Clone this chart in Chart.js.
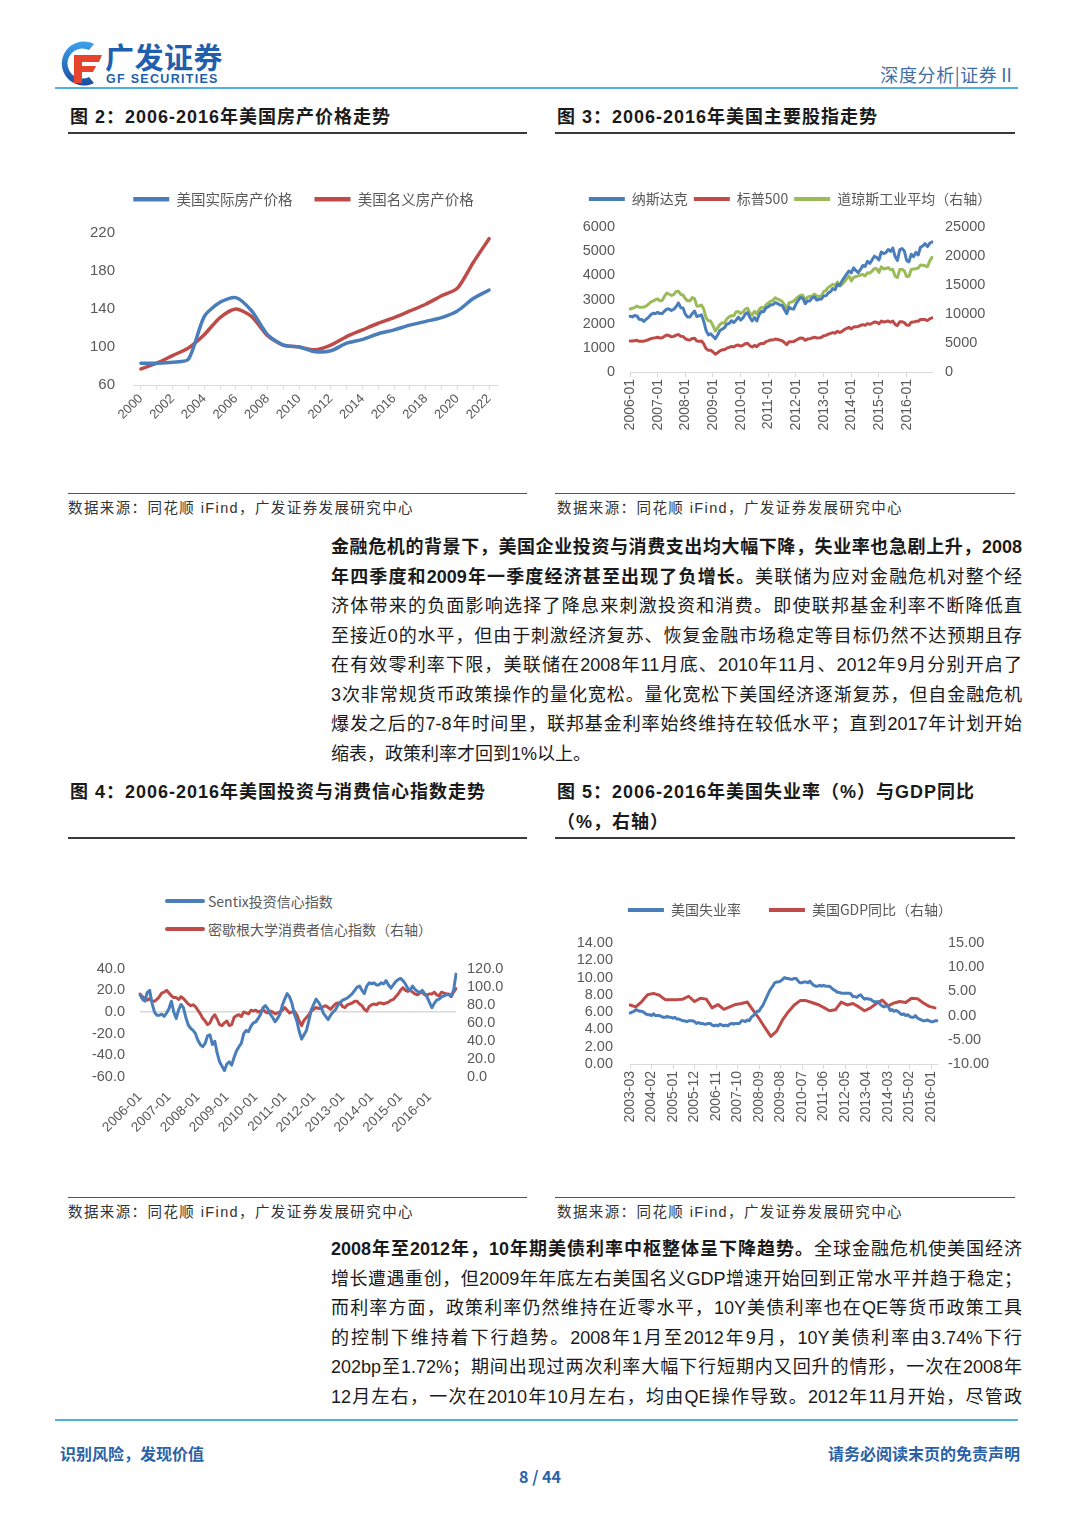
<!DOCTYPE html>
<html lang="zh-CN">
<head>
<meta charset="utf-8">
<title>深度分析 | 证券Ⅱ</title>
<script src="https://cdn.jsdelivr.net/npm/chart.js@4.4.1/dist/chart.umd.min.js"></script>
<style>
  html, body { margin: 0; padding: 0; background: #fff; }
  body { width: 1080px; height: 1527px; position: relative; overflow: hidden;
    font-family: "Liberation Sans", "Noto Sans CJK SC", sans-serif; color: #1a1a1a; }
  .rule-blue { position: absolute; left: 55px; width: 963px; height: 2px; background: #4fb1de; }
  .brand { position: absolute; left: 105px; top: 41px; font: 700 29px "Noto Sans CJK SC", sans-serif; line-height: 30px; color: #1f5fae; letter-spacing: 0.5px; }
  .brand-en { position: absolute; left: 106px; top: 73px; font: 700 12.5px "Liberation Sans", sans-serif; line-height: 12px; color: #1f5fae; letter-spacing: 1.3px; }
  .doc-type { position: absolute; right: 64px; top: 61px; font: 18px "Noto Sans CJK SC", sans-serif; color: #3f6ea6; letter-spacing: 0.6px; }
  .fig-title { position: absolute; font: 700 18px "Liberation Sans", "Noto Sans CJK SC", sans-serif; line-height: 30px; color: #1a1a1a; white-space: nowrap; letter-spacing: 1px; }
  .rule-dark { position: absolute; height: 2px; background: #3a3a3a; }
  .rule-src { position: absolute; height: 1px; background: #555; }
  .src { position: absolute; font: 14.5px "Liberation Sans", "Noto Sans CJK SC", sans-serif; line-height: 20px; color: #333; white-space: nowrap; letter-spacing: 1.4px; }
  .chart { position: absolute; }
  .para { position: absolute; left: 331px; width: 691px; font-size: 18px; color: #1a1a1a;
    font-family: "Liberation Sans Narrow", "Liberation Sans", "Noto Sans CJK SC", sans-serif; }
  .para div { line-height: 29.5px; height: 29.5px; text-align: justify; text-align-last: justify; }
  .para div.last { text-align-last: left; }
  .para b { font-weight: 700; }
  .lg4 { position: absolute; font: 14px "Noto Sans CJK SC", sans-serif; color: #595959; }
  .lg4 .row { height: 28px; display: flex; align-items: center; }
  .lg4 .sw { width: 40px; height: 4px; border-radius: 2px; margin-right: 3px; }
  .foot { position: absolute; font: 700 16px "Noto Sans CJK SC", sans-serif; color: #2a62a8; line-height: 22px; }
</style>
</head>
<body>

<!-- header -->
<svg style="position:absolute;left:54px;top:39px" width="50" height="48" viewBox="0 0 50 48">
  <defs>
    <linearGradient id="gb" x1="0" y1="0" x2="0" y2="1">
      <stop offset="0" stop-color="#3ba3ea"/><stop offset="1" stop-color="#1c4c9e"/>
    </linearGradient>
  </defs>
  <path d="M40 5 A22 22 0 1 0 40 44 L35 38 A15 15 0 1 1 35 11 Z" fill="url(#gb)"/>
  <path d="M20 16 H48 L45 23 H28 V27 H42 L39 33 H28 V44 H20 Z" fill="#e8432d"/>
</svg>
<div class="brand">广发证券</div>
<div class="brand-en">GF SECURITIES</div>
<div class="doc-type">深度分析|证券Ⅱ</div>
<div class="rule-blue" style="top:87px"></div>

<!-- figure 2 / 3 -->
<div class="fig-title" style="left:70px;top:102px">图 2：2006-2016年美国房产价格走势</div>
<div class="fig-title" style="left:557px;top:102px">图 3：2006-2016年美国主要股指走势</div>
<div class="rule-dark" style="left:68px;width:459px;top:132px"></div>
<div class="rule-dark" style="left:555px;width:460px;top:132px"></div>

<div class="chart" style="left:68px;top:170px;width:445px;height:257px"><canvas id="c2"></canvas></div>
<div class="chart" style="left:560px;top:186px;width:460px;height:252px"><canvas id="c3"></canvas></div>

<div class="rule-src" style="left:68px;width:459px;top:493px"></div>
<div class="rule-src" style="left:555px;width:460px;top:493px"></div>
<div class="src" style="left:68px;top:498px">数据来源：同花顺 iFind，广发证券发展研究中心</div>
<div class="src" style="left:557px;top:498px">数据来源：同花顺 iFind，广发证券发展研究中心</div>

<div class="para" style="top:533px">
  <div><b>金融危机的背景下，美国企业投资与消费支出均大幅下降，失业率也急剧上升，2008</b></div>
  <div><b>年四季度和2009年一季度经济甚至出现了负增长。</b>美联储为应对金融危机对整个经</div>
  <div>济体带来的负面影响选择了降息来刺激投资和消费。即使联邦基金利率不断降低直</div>
  <div>至接近0的水平，但由于刺激经济复苏、恢复金融市场稳定等目标仍然不达预期且存</div>
  <div>在有效零利率下限，美联储在2008年11月底、2010年11月、2012年9月分别开启了</div>
  <div>3次非常规货币政策操作的量化宽松。量化宽松下美国经济逐渐复苏，但自金融危机</div>
  <div>爆发之后的7-8年时间里，联邦基金利率始终维持在较低水平；直到2017年计划开始</div>
  <div class="last">缩表，政策利率才回到1%以上。</div>
</div>

<!-- figure 4 / 5 -->
<div class="fig-title" style="left:70px;top:777px">图 4：2006-2016年美国投资与消费信心指数走势</div>
<div class="fig-title" style="left:557px;top:777px">图 5：2006-2016年美国失业率（%）与GDP同比<br>（%，右轴）</div>
<div class="rule-dark" style="left:68px;width:459px;top:837px"></div>
<div class="rule-dark" style="left:555px;width:460px;top:837px"></div>

<div class="lg4" id="lg4" style="left:165px;top:887px"></div>
<div class="chart" style="left:70px;top:945px;width:455px;height:187px"><canvas id="c4"></canvas></div>
<div class="chart" style="left:560px;top:875px;width:460px;height:255px"><canvas id="c5"></canvas></div>

<div class="rule-src" style="left:68px;width:459px;top:1197px"></div>
<div class="rule-src" style="left:555px;width:460px;top:1197px"></div>
<div class="src" style="left:68px;top:1202px">数据来源：同花顺 iFind，广发证券发展研究中心</div>
<div class="src" style="left:557px;top:1202px">数据来源：同花顺 iFind，广发证券发展研究中心</div>

<div class="para" style="top:1235px">
  <div><b>2008年至2012年，10年期美债利率中枢整体呈下降趋势。</b>全球金融危机使美国经济</div>
  <div>增长遭遇重创，但2009年年底左右美国名义GDP增速开始回到正常水平并趋于稳定；</div>
  <div>而利率方面，政策利率仍然维持在近零水平，10Y美债利率也在QE等货币政策工具</div>
  <div>的控制下维持着下行趋势。2008年1月至2012年9月，10Y美债利率由3.74%下行</div>
  <div>202bp至1.72%；期间出现过两次利率大幅下行短期内又回升的情形，一次在2008年</div>
  <div>12月左右，一次在2010年10月左右，均由QE操作导致。2012年11月开始，尽管政</div>
</div>

<!-- footer -->
<div class="rule-blue" style="top:1419px"></div>
<div class="foot" style="left:60px;top:1442px">识别风险，发现价值</div>
<div class="foot" style="right:60px;top:1442px">请务必阅读末页的免责声明</div>
<div class="foot" style="left:0;width:1080px;text-align:center;top:1465px">8 / 44</div>

<script>
// ---- 图2 房产价格 ----
const houseYears = ['2000', '2001', '2002', '2003', '2004', '2005', '2006', '2007', '2008', '2009', '2010', '2011',
  '2012', '2013', '2014', '2015', '2016', '2017', '2018', '2019', '2020', '2021', '2022'];
const realHouse = [83, 83, 84, 87, 132, 147, 152, 138, 113, 102, 100, 95, 96, 104, 108, 114, 118, 123, 127, 131, 138, 151, 160];
const nominalHouse = [77, 83, 91, 99, 113, 131, 140, 132, 112, 102, 100, 97, 102, 111, 118, 125, 131, 138, 145, 154, 162, 189, 214];

// ---- 图3 股指 (月度 2006-01 ~ 2016-12) ----
const nasdaq = [
  2306, 2281, 2340, 2323, 2179, 2172, 2091, 2184, 2258, 2367, 2432, 2415,
  2464, 2416, 2422, 2525, 2605, 2603, 2546, 2596, 2702, 2859, 2661, 2652,
  2390, 2271, 2279, 2413, 2523, 2293, 2326, 2368, 2092, 1721, 1536, 1577,
  1476, 1378, 1529, 1717, 1774, 1835, 1979, 2009, 2122, 2045, 2145, 2269,
  2147, 2238, 2398, 2461, 2257, 2109, 2255, 2114, 2369, 2507, 2498, 2653,
  2700, 2782, 2781, 2874, 2835, 2774, 2756, 2579, 2415, 2684, 2620, 2605,
  2814, 2967, 3092, 3046, 2827, 2935, 2940, 3067, 3116, 2977, 3010, 3020,
  3142, 3160, 3268, 3329, 3456, 3403, 3626, 3590, 3771, 3920, 4060, 4177,
  4104, 4308, 4199, 4115, 4243, 4408, 4370, 4580, 4493, 4631, 4792, 4736,
  4635, 4964, 4901, 4941, 5070, 4987, 5128, 4777, 4620, 5054, 5109, 5007,
  4614, 4558, 4870, 4775, 4948, 4843, 5162, 5213, 5312, 5189, 5324, 5383];
const sp500 = [
  1280, 1281, 1295, 1311, 1270, 1270, 1277, 1304, 1336, 1378, 1401, 1418,
  1438, 1407, 1421, 1482, 1531, 1503, 1455, 1474, 1527, 1549, 1481, 1468,
  1379, 1331, 1323, 1386, 1400, 1280, 1267, 1283, 1166, 969, 896, 903,
  826, 735, 798, 873, 919, 919, 987, 1021, 1057, 1036, 1096, 1115,
  1074, 1104, 1169, 1187, 1089, 1031, 1102, 1049, 1141, 1183, 1181, 1258,
  1286, 1327, 1326, 1364, 1345, 1321, 1292, 1219, 1131, 1253, 1247, 1258,
  1312, 1366, 1408, 1398, 1310, 1362, 1379, 1407, 1441, 1412, 1416, 1426,
  1498, 1515, 1569, 1598, 1631, 1606, 1686, 1633, 1682, 1757, 1806, 1848,
  1783, 1859, 1872, 1884, 1924, 1960, 1931, 2003, 1972, 2018, 2068, 2059,
  1995, 2105, 2068, 2086, 2107, 2063, 2104, 1972, 1920, 2079, 2080, 2044,
  1940, 1932, 2060, 2065, 2097, 2099, 2174, 2171, 2168, 2126, 2199, 2239];
const dow = [
  10865, 10993, 11109, 11367, 11168, 11150, 11186, 11381, 11679, 12081, 12222, 12463,
  12622, 12269, 12354, 13063, 13628, 13409, 13212, 13358, 13896, 13930, 13372, 13265,
  12650, 12266, 12263, 12820, 12638, 11350, 11378, 11544, 10851, 9325, 8829, 8776,
  8001, 7063, 7609, 8168, 8500, 8447, 9172, 9496, 9712, 9713, 10345, 10428,
  10067, 10325, 10857, 11009, 10137, 9774, 10466, 10015, 10788, 11118, 11006, 11578,
  11892, 12226, 12320, 12811, 12570, 12414, 12143, 11614, 10913, 11955, 12046, 12218,
  12633, 12952, 13212, 13214, 12393, 12880, 13009, 13091, 13437, 13096, 13026, 13104,
  13861, 14054, 14579, 14840, 15116, 14910, 15500, 14810, 15130, 15546, 16086, 16577,
  15699, 16322, 16458, 16581, 16717, 16827, 16563, 17098, 17043, 17391, 17828, 17823,
  17165, 18133, 17776, 17841, 18011, 17620, 17690, 16528, 16285, 17664, 17720, 17425,
  16466, 16517, 17685, 17774, 17787, 17930, 18432, 18401, 18308, 18142, 19124, 19763];

// ---- 图4 信心指数 (月度 2006-01 ~ 2016-12) ----
const sentix = [
  16, 12, 10, 18, 20, 8, 0, -3, -3, -2, -4, -1,
  3, 10, 0, -6, 2, 7, 4, -5, -12, -15, -17, -20,
  -26, -30, -32, -29, -22, -21, -30, -27, -38, -46, -50, -54,
  -48, -46, -49, -42, -36, -32, -29, -20, -17, -18, -13, -10,
  -9, -6, -2, 4, 6, 3, -2, -5, -9, -6, -2, 6,
  12, 17, 14, 8, -2, -8, -18, -25, -21, -17, -8, 2,
  7, 12, 9, 5, -1, -4, -7, -3, 0, 2, 6, 9,
  11, 12, 13, 15, 17, 20, 23, 24, 20, 17, 24, 27,
  26, 27, 25, 25, 27, 26, 29, 25, 22, 25, 28, 30,
  31, 29, 26, 22, 20, 24, 21, 19, 18, 20, 17, 14,
  9, 4, 8, 11, 12, 14, 15, 16, 16, 15, 20, 35];
const michigan = [
  92, 89, 87, 85, 87, 84, 84, 86, 89, 93, 94, 96,
  93, 90, 88, 88, 86, 89, 87, 84, 81, 79, 80, 78,
  74, 70, 65, 62, 58, 60, 66, 69, 64, 58, 57, 60,
  62, 57, 58, 66, 68, 69, 67, 72, 71, 70, 74, 73,
  74, 72, 73, 75, 72, 71, 73, 72, 70, 71, 72, 74,
  77, 74, 71, 72, 73, 69, 62, 57, 63, 66, 69, 73,
  75, 77, 76, 76, 78, 79, 77, 75, 78, 81, 82, 82,
  78, 77, 80, 81, 82, 84, 84, 81, 79, 75, 73, 78,
  80, 81, 80, 82, 82, 81, 82, 83, 85, 86, 89, 92,
  96, 99, 96, 95, 96, 94, 92, 91, 93, 94, 91, 91,
  92, 92, 94, 91, 90, 94, 93, 92, 92, 89, 94, 98];

// ---- 图5 失业率 (月度 2003-03 ~ 2016-04) 与 GDP 同比 (季度) ----
const unemployment = [
  5.9, 6.0, 6.1, 6.3, 6.2, 6.1, 6.1, 6.0, 5.8, 5.7,
  5.7, 5.6, 5.8, 5.6, 5.6, 5.6, 5.5, 5.4, 5.4, 5.5, 5.4, 5.4,
  5.3, 5.4, 5.2, 5.2, 5.1, 5.0, 5.0, 4.9, 5.0, 5.0, 5.0, 4.9,
  4.7, 4.8, 4.7, 4.7, 4.6, 4.6, 4.7, 4.7, 4.5, 4.4, 4.5, 4.4,
  4.6, 4.5, 4.4, 4.5, 4.4, 4.6, 4.7, 4.6, 4.7, 4.7, 4.7, 5.0,
  5.0, 4.9, 5.1, 5.0, 5.4, 5.6, 5.8, 6.1, 6.1, 6.5, 6.8, 7.3,
  7.8, 8.3, 8.7, 9.0, 9.4, 9.5, 9.5, 9.6, 9.8, 10.0, 9.9, 9.9,
  9.8, 9.8, 9.9, 9.9, 9.6, 9.4, 9.4, 9.5, 9.5, 9.4, 9.6, 9.3,
  9.1, 9.0, 9.0, 9.1, 9.0, 9.1, 9.0, 9.0, 9.0, 8.8, 8.6, 8.5,
  8.3, 8.3, 8.2, 8.2, 8.2, 8.2, 8.2, 8.1, 7.8, 7.8, 7.7, 7.9,
  8.0, 7.7, 7.5, 7.6, 7.5, 7.5, 7.3, 7.2, 7.2, 7.2, 6.9, 6.7,
  6.6, 6.7, 6.7, 6.2, 6.3, 6.1, 6.2, 6.1, 5.9, 5.7, 5.8, 5.6,
  5.7, 5.5, 5.4, 5.4, 5.6, 5.3, 5.2, 5.1, 5.0, 5.0, 5.1, 5.0,
  4.9, 4.9, 5.0, 5.0];
// 季度值，依次为 2003Q1 ... 2016Q1
const gdpYoY = [
  2.2, 1.8, 2.9, 4.3, 4.6, 4.2, 3.3, 3.3, 3.3, 3.4, 4.0, 2.9, 3.6,
  3.4, 1.6, 2.3, 1.3, 1.8, 2.3, 2.5, 2.8, 1.1, -0.6, -2.5, -4.3, -3.2,
  -0.9, 0.8, 2.2, 3.1, 3.1, 2.7, 2.3, 1.7, 1.0, 1.2, 2.8, 2.2, 2.5,
  1.8, 1.0, 1.6, 2.5, 3.2, 2.0, 2.6, 2.9, 2.7, 3.6, 3.5, 2.6, 1.9, 1.6];

function monthLabels(year, month, count) {
  const out = [];
  for (let i = 0; i < count; i++) {
    const m = month - 1 + i;
    out.push((year + Math.floor(m / 12)) + '-' + String(m % 12 + 1).padStart(2, '0'));
  }
  return out;
}
const stockMonths = monthLabels(2006, 1, 132);
const rateMonths = monthLabels(2003, 3, 158);

// ---- 样式 ----
const BLUE = '#4a7ebb', RED = '#be4b48', GREEN = '#9bbb59';
const AXIS = '#d9d9d9', INK = '#595959';
const CJK = "'Noto Sans CJK SC', sans-serif";

Chart.defaults.font.family = "'Liberation Sans', Arial, sans-serif";
Chart.defaults.color = INK;
Chart.defaults.animation = false;

// 固定图例高度（和可选的水平偏移），方便对齐绘图区
const legendHeight = {
  id: 'legendHeight',
  beforeInit(chart, args, opts) {
    const lg = chart.legend;
    if (!lg) return;
    const fit = lg.fit, draw = lg.draw;
    lg.fit = function () { fit.call(this); if (opts.height) this.height = opts.height; };
    lg.draw = function () {
      this.ctx.save();
      this.ctx.translate(opts.shift || 0, 0);
      draw.call(this);
      this.ctx.restore();
    };
  }
};

function series(label, data, color, width, axis) {
  return {
    label, data, borderColor: color, backgroundColor: color,
    borderWidth: width, pointRadius: 0, pointHoverRadius: 0, pointBorderWidth: width + 1,
    borderCapStyle: 'round', borderJoinStyle: 'round', yAxisID: axis || 'y', spanGaps: true
  };
}

function legendOpts(pad, size) {
  return {
    display: true, position: 'top',
    labels: { usePointStyle: true, pointStyle: 'line', pointStyleWidth: 36, padding: pad,
      font: { family: CJK, size: size || 14 }, color: INK, boxHeight: 14 }
  };
}

const fixW = (w) => (scale) => { scale.width = w; };
const fixH = (h) => (scale) => { scale.height = h; };
const plain = (v) => String(v);

function base(legend, legendH, shift) {
  return {
    responsive: true, maintainAspectRatio: false,
    layout: { padding: 0 },
    plugins: { legend, legendHeight: { height: legendH, shift: shift || 0 }, tooltip: { enabled: false } },
    events: []
  };
}

// ---- 图2 ----
(function () {
  const opts = base(legendOpts(22, 14.5), 63, 21);
  opts.layout.padding = { right: 16 };
  opts.scales = {
    x: {
      offset: true, afterFit: fixH(42),
      grid: { drawOnChartArea: false, drawTicks: true, tickLength: 4, color: AXIS },
      border: { color: AXIS },
      ticks: { autoSkip: false, minRotation: 45, maxRotation: 45, padding: 2, font: { size: 13 },
        callback: (v, i) => (i % 2 === 0 ? houseYears[i] : '') }
    },
    y: {
      min: 60, max: 220, afterFit: fixW(65),
      grid: { display: false, drawTicks: false }, border: { display: false },
      ticks: { stepSize: 40, autoSkip: false, padding: 18, font: { size: 15 }, callback: plain }
    }
  };
  new Chart(document.getElementById('c2'), {
    type: 'line',
    data: { labels: houseYears, datasets: [
      Object.assign(series('美国实际房产价格', realHouse, BLUE, 3.5), { tension: 0.25 }),
      Object.assign(series('美国名义房产价格', nominalHouse, RED, 3.5), { tension: 0.25 })
    ] },
    options: opts,
    plugins: [legendHeight]
  });
})();

// ---- 图3 ----
(function () {
  const opts = base(legendOpts(6), 41);
  opts.scales = {
    x: {
      afterFit: fixH(66),
      grid: { drawOnChartArea: false, drawTicks: true, tickLength: 5,
        color: (c) => (c.index % 12 === 0 ? AXIS : 'transparent') },
      border: { color: AXIS },
      ticks: { autoSkip: false, minRotation: 90, maxRotation: 90, padding: 2, font: { size: 14 },
        callback: (v, i) => (i % 12 === 0 ? stockMonths[i] : '') }
    },
    y: {
      position: 'left', min: 0, max: 6000, afterFit: fixW(70),
      grid: { display: false, drawTicks: false }, border: { display: false },
      ticks: { stepSize: 1000, autoSkip: false, padding: 15, font: { size: 14.5 }, callback: plain }
    },
    y2: {
      position: 'right', min: 0, max: 25000, afterFit: fixW(88),
      grid: { display: false, drawTicks: false }, border: { display: false },
      ticks: { stepSize: 5000, autoSkip: false, padding: 13, font: { size: 14.5 }, callback: plain }
    }
  };
  new Chart(document.getElementById('c3'), {
    type: 'line',
    data: { labels: stockMonths, datasets: [
      series('纳斯达克', nasdaq, BLUE, 3),
      series('标普500', sp500, RED, 3),
      series('道琼斯工业平均（右轴）', dow, GREEN, 3, 'y2')
    ] },
    options: opts,
    plugins: [legendHeight]
  });
})();

// ---- 图4 ----
(function () {
  const datasets = [
    series('Sentix投资信心指数', sentix, BLUE, 3),
    series('密歇根大学消费者信心指数（右轴）', michigan, RED, 3, 'y2')
  ];
  const opts = base({ display: false }, 0);
  opts.layout.padding = { top: 15 };
  opts.scales = {
    x: {
      afterFit: fixH(55),
      grid: { display: false }, border: { display: false },
      ticks: { autoSkip: false, minRotation: 45, maxRotation: 45, padding: 4, font: { size: 13.5 },
        callback: (v, i) => (i % 12 === 0 ? stockMonths[i] : '') }
    },
    y: {
      position: 'left', min: -60, max: 40, afterFit: fixW(70),
      grid: { drawTicks: false, lineWidth: 1.5,
        color: (c) => (c.tick && c.tick.value === 0 ? AXIS : 'transparent') },
      border: { display: false },
      ticks: { stepSize: 20, autoSkip: false, padding: 15, font: { size: 14.5 }, callback: (v) => v.toFixed(1) }
    },
    y2: {
      position: 'right', min: 0, max: 120, afterFit: fixW(69),
      grid: { display: false, drawTicks: false }, border: { display: false },
      ticks: { stepSize: 20, autoSkip: false, padding: 11, font: { size: 14.5 }, callback: (v) => v.toFixed(1) }
    }
  };
  new Chart(document.getElementById('c4'), {
    type: 'line', data: { labels: stockMonths, datasets }, options: opts
  });
  // 两行左对齐的图例
  const box = document.getElementById('lg4');
  datasets.forEach((d) => {
    const row = document.createElement('div');
    row.className = 'row';
    row.innerHTML = '<span class="sw" style="background:' + d.borderColor + '"></span><span>' + d.label + '</span>';
    box.appendChild(row);
  });
})();

// ---- 图5 ----
(function () {
  const opts = base(legendOpts(28), 68);
  opts.scales = {
    x: {
      afterFit: fixH(66),
      grid: { drawOnChartArea: false, drawTicks: true, tickLength: 5,
        color: (c) => (c.index % 11 === 0 ? AXIS : 'transparent') },
      border: { color: AXIS },
      ticks: { autoSkip: false, minRotation: 90, maxRotation: 90, padding: 2, font: { size: 14 },
        callback: (v, i) => (i % 11 === 0 ? rateMonths[i] : '') }
    },
    y: {
      position: 'left', min: 0, max: 14, afterFit: fixW(70),
      grid: { display: false, drawTicks: false }, border: { display: false },
      ticks: { stepSize: 2, autoSkip: false, padding: 17, font: { size: 14.5 }, callback: (v) => v.toFixed(2) }
    },
    y2: {
      position: 'right', min: -10, max: 15, afterFit: fixW(83),
      grid: { display: false, drawTicks: false }, border: { display: false },
      ticks: { stepSize: 5, autoSkip: false, padding: 11, font: { size: 14.5 }, callback: (v) => v.toFixed(2) }
    }
  };
  const gdpPoints = gdpYoY.map((v, q) => ({ x: rateMonths[q * 3], y: v }));
  new Chart(document.getElementById('c5'), {
    type: 'line',
    data: { labels: rateMonths, datasets: [
      series('美国失业率', unemployment, BLUE, 3),
      series('美国GDP同比（右轴）', gdpPoints, RED, 3, 'y2')
    ] },
    options: opts,
    plugins: [legendHeight]
  });
})();
</script>
</body>
</html>
